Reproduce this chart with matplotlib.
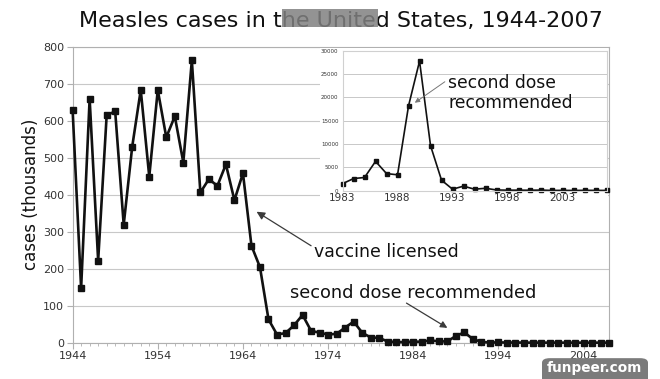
import matplotlib as mpl
import matplotlib.pyplot as plt
from matplotlib.patches import Rectangle, FancyBboxPatch

# --- data ------------------------------------------------------------------
years = list(range(1944, 2008))
cases_k = [630, 147, 659, 222, 615, 625, 319, 530, 683, 449,
           683, 555, 612, 487, 763, 406, 442, 424, 482, 385,
           458, 262, 204, 63, 22, 26, 47, 75, 32, 27,
           22, 24, 41, 57, 27, 14, 13, 3.1, 1.7, 1.5,
           2.6, 2.8, 6.3, 3.7, 3.4, 18.2, 27.8, 9.6, 2.2, 0.3,
           1.0, 0.3, 0.5, 0.14, 0.1, 0.1, 0.09, 0.12, 0.04, 0.06,
           0.04, 0.07, 0.06, 0.04]

inset_years = list(range(1983, 2008))
inset_cases = [1497, 2587, 2822, 6282, 3655, 3396, 18193, 27786, 9643, 2237,
               312, 963, 309, 508, 138, 100, 100, 86, 116, 44,
               56, 37, 66, 55, 43]

main_yticks = [0, 100, 200, 300, 400, 500, 600, 700, 800]
main_xticks = [1944, 1954, 1964, 1974, 1984, 1994, 2004]
inset_yticks = [0, 5000, 10000, 15000, 20000, 25000, 30000]
inset_xticks = [1983, 1988, 1993, 1998, 2003]

# --- style -----------------------------------------------------------------
INK = "#111111"
LABEL = "#333333"
GRID = "#c8c8c8"
FRAME = "#b0b0b0"
ARROW = "#3a3a3a"

mpl.rcParams.update({
    "font.family": "DejaVu Sans",
    "axes.edgecolor": FRAME,
    "xtick.color": FRAME, "ytick.color": FRAME,
    "xtick.labelcolor": LABEL, "ytick.labelcolor": LABEL,
})

fig = plt.figure(figsize=(6.6, 3.79), dpi=100)
fig.patch.set_facecolor("white")

# --- main chart ------------------------------------------------------------
ax = fig.add_axes([0.110, 0.0958, 0.813, 0.781])
ax.plot(years, cases_k, color=INK, lw=1.9, marker="s", ms=4.5,
        mfc=INK, mec=INK, zorder=3, clip_on=False)
ax.set_xlim(1944, 2007)
ax.set_ylim(0, 800)
ax.set_yticks(main_yticks)
ax.set_xticks(main_xticks)
ax.set_xticks(years, minor=True)
ax.tick_params(axis="x", which="major", length=4, labelsize=8, pad=2)
ax.tick_params(axis="x", which="minor", length=2.5)
ax.tick_params(axis="y", length=4, labelsize=8, pad=2)
ax.grid(axis="y", color=GRID, lw=0.8)
ax.set_axisbelow(True)
ax.set_ylabel("cases (thousands)", fontsize=12, color=INK, labelpad=2)

ax.annotate("", xy=(1965.6, 354), xytext=(1972.0, 262),
            arrowprops=dict(arrowstyle="-|>", color=ARROW, lw=0.9,
                            mutation_scale=12, shrinkA=0, shrinkB=0))
ax.text(1972.4, 245, "vaccine licensed", fontsize=12.5, color=INK,
        ha="left", va="center")

ax.annotate("", xy=(1988.0, 40), xytext=(1983.2, 107),
            arrowprops=dict(arrowstyle="-|>", color=ARROW, lw=0.9,
                            mutation_scale=10, shrinkA=0, shrinkB=0))
ax.text(1969.5, 134, "second dose recommended", fontsize=12.8, color=INK,
        ha="left", va="center")

# white backing behind the inset
fig.patches.append(Rectangle((0.485, 0.459), 0.436, 0.414,
                             transform=fig.transFigure, facecolor="white",
                             edgecolor="none", zorder=1))

# --- inset -----------------------------------------------------------------
axi = fig.add_axes([0.519, 0.497, 0.400, 0.369])
axi.set_zorder(2)
axi.plot(inset_years, inset_cases, color=INK, lw=1.2, marker="s", ms=2.2,
         mfc=INK, mec=INK, clip_on=False)
axi.set_xlim(1983, 2007)
axi.set_ylim(0, 30000)
axi.set_yticks(inset_yticks)
axi.set_xticks(inset_xticks)
axi.tick_params(axis="y", length=0, labelsize=4, pad=3)
axi.tick_params(axis="x", length=0, labelsize=7.5, pad=2)
axi.grid(axis="y", color=GRID, lw=0.7)
axi.set_axisbelow(True)
for s in axi.spines.values():
    s.set_color("#d0d0d0")

axi.annotate("", xy=(1989.57, 18857), xytext=(1992.3, 23357),
             arrowprops=dict(arrowstyle="-|>", color="#777777", lw=0.7,
                             mutation_scale=7, shrinkA=0, shrinkB=0))
axi.text(1992.6, 20980, "second dose\nrecommended", fontsize=12.3,
         color=INK, ha="left", va="center", linespacing=1.15)

# --- title and watermarks --------------------------------------------------
fig.text(0.517, 0.945, "Measles cases in the United States, 1944-2007",
         fontsize=16, color=INK, ha="center", va="center")

# grey watermark block over the title
fig.patches.append(Rectangle((281.7 / 660, 1 - 27 / 379), 96 / 660, 18 / 379,
                             transform=fig.transFigure, facecolor="#808080",
                             alpha=0.85, edgecolor="none", zorder=5))

fig.patches.append(FancyBboxPatch((542 / 660, -0.02), 106 / 660, 0.075,
                                  boxstyle="round,pad=0,rounding_size=0.012",
                                  transform=fig.transFigure,
                                  facecolor="#7b7b7b", edgecolor="none",
                                  zorder=5))
fig.text(594 / 660, 1 - 368 / 379, "funpeer.com", fontsize=9.8,
         fontweight="bold", color="white", ha="center", va="center", zorder=6)

fig.savefig("out.png", dpi=100)
